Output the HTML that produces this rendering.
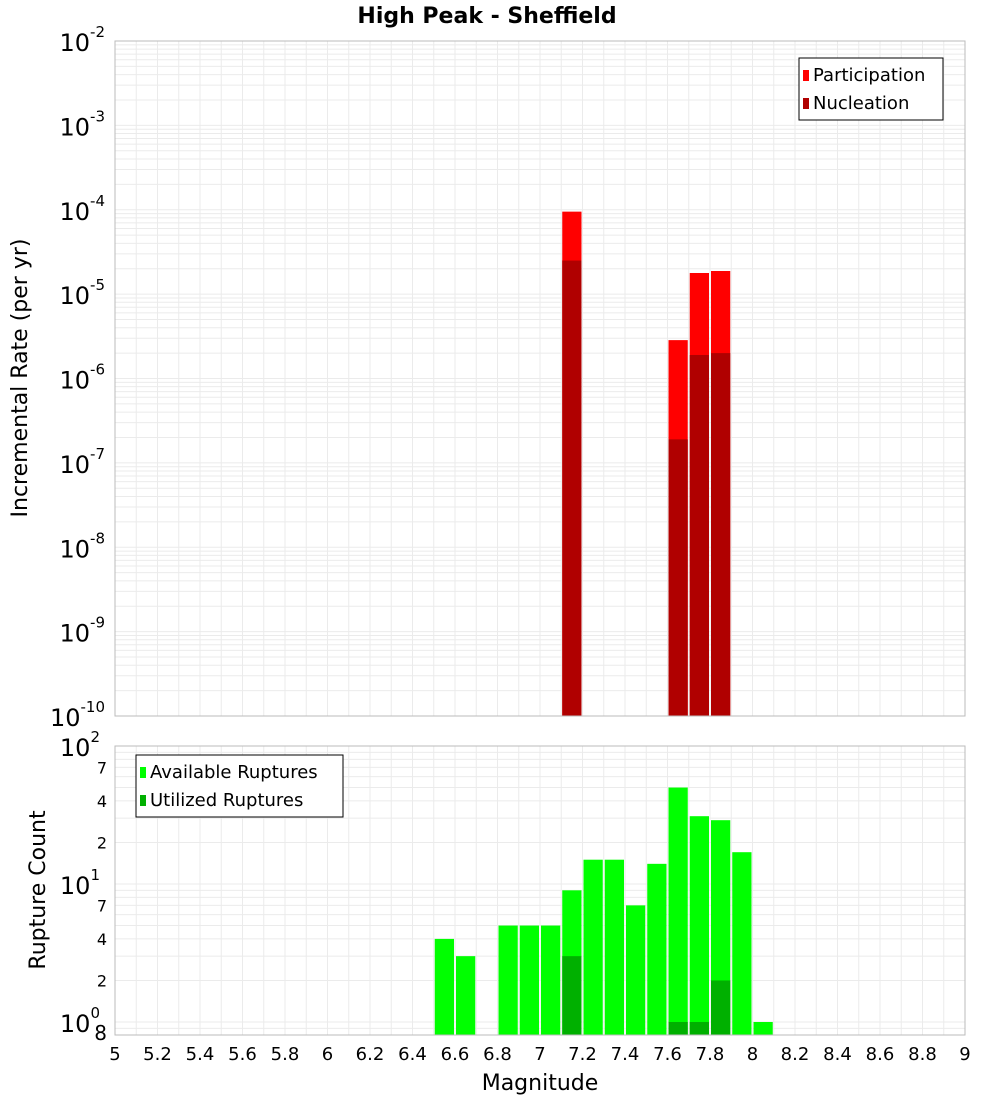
<!DOCTYPE html>
<html><head><meta charset="utf-8"><style>
body{margin:0;background:#fff;font-family:"Liberation Sans","DejaVu Sans",sans-serif}
svg{display:block}
</style></head><body>
<svg id="c" width="1000" height="1100" xmlns="http://www.w3.org/2000/svg" font-family="DejaVu Sans, Liberation Sans, sans-serif"></svg>
<script>
const topMags=[7.1,7.6,7.7,7.8];
const participation=[9.5e-5,2.85e-6,1.78e-5,1.88e-5];
const nucleation=[2.5e-5,1.9e-7,1.9e-6,2.0e-6];
const botMags=[6.5,6.6,6.8,6.9,7.0,7.1,7.2,7.3,7.4,7.5,7.6,7.7,7.8,7.9,8.0];
const available=[4,3,5,5,5,9,15,15,7,14,50,31,29,17,1];
const utilMags=[7.1,7.6,7.7,7.8];
const utilized=[3,1,1,2];
const xTicks=[5,5.2,5.4,5.6,5.8,6,6.2,6.4,6.6,6.8,7,7.2,7.4,7.6,7.8,8,8.2,8.4,8.6,8.8,9];
const topExps=[-2,-3,-4,-5,-6,-7,-8,-9,-10];

const svg=document.getElementById('c');const NS='http://www.w3.org/2000/svg';
function el(t,a,p,txt){const e=document.createElementNS(NS,t);for(const k in a)e.setAttribute(k,a[k]);if(txt!==undefined)e.textContent=txt;(p||svg).appendChild(e);return e;}
const L=115,R=965;const X=m=>L+(m-5)/4*(R-L);
const T1=41,B1=716;const Y1=v=>T1+(-2-Math.log10(v))/8*(B1-T1);
const T2=746,B2=1035;const ppd=138;const Y2=v=>1022-Math.log10(v)*ppd;

// plot backgrounds and grid
function grid(top,bot,yfun,vals){
  const g=el('g',{}) ;
  for(let m=5;m<=9.001;m+=0.1){el('line',{x1:X(m),x2:X(m),y1:top,y2:bot,stroke:'#ebebeb','stroke-width':1},g);}
  vals.forEach(v=>{const y=yfun(v);if(y>=top&&y<=bot)el('line',{x1:L,x2:R,y1:y,y2:y,stroke:'#ebebeb','stroke-width':1},g);});
}
let tv=[];for(let e=-10;e<-2;e++)for(let k=1;k<10;k++)tv.push(k*Math.pow(10,e));tv.push(0.01);
grid(T1,B1,Y1,tv);
let bv=[];for(let e=-1;e<2;e++)for(let k=1;k<10;k++)bv.push(k*Math.pow(10,e));bv.push(100);
grid(T2,B2,Y2,bv);

// top bars
const bw=(R-L)/40;
topMags.forEach((m,i)=>{
  const b=el('rect',{x:X(m)+1,y:Y1(participation[i]),width:bw-2,height:B1-Y1(participation[i]),fill:'#ff0000'});
  
  const n=el('rect',{x:X(m)+1,y:Y1(nucleation[i]),width:bw-2,height:B1-Y1(nucleation[i]),fill:'#b00000'});
  
});
botMags.forEach((m,i)=>{
  const b=el('rect',{x:X(m)+1,y:Y2(available[i]),width:bw-2,height:B2-Y2(available[i]),fill:'#00ff00'});
  
});
utilMags.forEach((m,i)=>{
  const b=el('rect',{x:X(m)+1,y:Y2(utilized[i]),width:bw-2,height:B2-Y2(utilized[i]),fill:'#00b000'});
  
});
el('rect',{x:L,y:T1,width:R-L,height:B1-T1,fill:'none',stroke:'#bbb'});
el('rect',{x:L,y:T2,width:R-L,height:B2-T2,fill:'none',stroke:'#bbb'});

// top y labels
topExps.forEach(e=>{
  const y=T1+(-2-e)/8*(B1-T1);
  const t=el('text',{x:105,y:y+10,'text-anchor':'end','font-size':24,fill:'#000'});
  
  el('tspan',{},t,'10');el('tspan',{dy:-14,'font-size':15},t,String(e));
});
// bottom y labels
[[100,'2'],[10,'1'],[1,'0']].forEach(([v,e])=>{
  const t=el('text',{x:100,y:Y2(v)+10,'text-anchor':'end','font-size':24});
  
  el('tspan',{},t,'10');el('tspan',{dy:-14,'font-size':15},t,e);
});
[[70,'7'],[40,'4'],[20,'2'],[7,'7'],[4,'4'],[2,'2'],[0.8,'8']].forEach(([v,s])=>{
  const t=el('text',{x:107,y:Math.min(Y2(v)+6,1040),'text-anchor':'end','font-size':v<1?20:16},undefined,s);
  
});
// x labels
xTicks.forEach(m=>{
  const t=el('text',{x:X(m),y:1060,'text-anchor':'middle','font-size':18},undefined,String(m));
  
});
let t;
t=el('text',{x:540,y:1090,'text-anchor':'middle','font-size':22},undefined,'Magnitude');
t=el('text',{x:0,y:0,transform:'translate(27,378) rotate(-90)','text-anchor':'middle','font-size':22},undefined,'Incremental Rate (per yr)');
t=el('text',{x:0,y:0,transform:'translate(45,890) rotate(-90)','text-anchor':'middle','font-size':22},undefined,'Rupture Count');
t=el('text',{x:487,y:23,'text-anchor':'middle','font-size':22,'font-weight':'bold'},undefined,'High Peak - Sheffield');

// legends
function legend(x,y,w,items,name){
  const g=el('g',{});
  el('rect',{x:x,y:y,width:w,height:items.length*28+6,fill:'#fff',stroke:'#000'},g);
  items.forEach(([c,s],i)=>{
    el('rect',{x:x+4,y:y+12+i*28,width:6,height:11,fill:c},g);
    el('text',{x:x+14,y:y+23+i*28,'font-size':18},g,s);
  });
}
legend(799,58,144,[['#ff0000','Participation'],['#b00000','Nucleation']],'legend-top');
legend(136,755,207,[['#00ff00','Available Ruptures'],['#00b000','Utilized Ruptures']],'legend-bottom');
</script>
</body></html>
